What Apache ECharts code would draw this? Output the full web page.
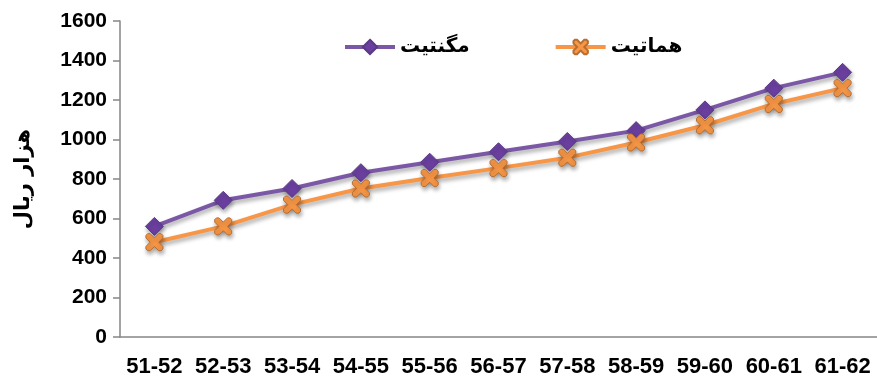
<!DOCTYPE html>
<html><head><meta charset="utf-8">
<script src="https://cdn.jsdelivr.net/npm/echarts@6/dist/echarts.min.js"></script>
<style>html,body{margin:0;padding:0;background:#fff}#c{width:877px;height:382px}</style>
</head><body><div id="c"></div>
<script>
const categories = ['51-52','52-53','53-54','54-55','55-56','56-57','57-58','58-59','59-60','60-61','61-62'];
const magnetite = [560, 692, 752, 832, 885, 938, 990, 1045, 1150, 1260, 1340];
const hematite = [480, 560, 670, 752, 805, 855, 908, 985, 1072, 1180, 1260];
const seriesNames = ['مگنتیت', 'هماتیت'];
const yTicks = {min: 0, max: 1600, interval: 200};
const yTitle = 'هزار ریال';

const xPath = 'path://M2,0 L5,0 L10,5 L15,0 L18,0 L20,2 L20,5 L15,10 L20,15 L20,18 L18,20 L15,20 L10,15 L5,20 L2,20 L0,18 L0,15 L5,10 L0,5 L0,2 Z';
const shadow = {shadowColor: 'rgba(0,0,0,0.35)', shadowBlur: 4, shadowOffsetX: 1, shadowOffsetY: 3};
const chart = echarts.init(document.getElementById('c'));
chart.setOption({
  animation: false,
  textStyle: {fontFamily: 'Liberation Sans, Arial, sans-serif'},
  grid: {left: 120, top: 21, width: 759, height: 316},
  legend: {
    top: 32, left: 338, itemGap: 84, itemWidth: 50, itemHeight: 18,
    lineStyle: {width: 4},
    textStyle: {fontFamily: 'DejaVu Sans', fontWeight: 'bold', fontSize: 20, color: '#000'},
    data: seriesNames
  },
  xAxis: {
    type: 'category', data: categories, boundaryGap: true,
    axisLine: {lineStyle: {color: '#868686', width: 1.5}},
    axisTick: {length: 7, lineStyle: {color: '#868686', width: 1.5}},
    axisLabel: {color: '#000', fontWeight: 'bold', fontSize: 22, margin: 19, interval: 0}
  },
  yAxis: {
    type: 'value', min: yTicks.min, max: yTicks.max, interval: yTicks.interval,
    name: yTitle, nameLocation: 'middle', nameRotate: 90, nameGap: 86,
    nameTextStyle: {fontFamily: 'DejaVu Sans', fontWeight: 'bold', fontSize: 21, color: '#000'},
    splitLine: {show: false},
    axisLine: {show: true, lineStyle: {color: '#868686', width: 1.5}},
    axisTick: {show: true, length: 7, lineStyle: {color: '#868686', width: 1.5}},
    axisLabel: {color: '#000', fontWeight: 'bold', fontSize: 21, margin: 13, formatter: v => String(v)}
  },
  series: [
    {
      name: seriesNames[0], type: 'line', data: magnetite,
      symbol: 'diamond', symbolSize: 18,
      lineStyle: {color: '#7B58A6', width: 4, ...shadow},
      itemStyle: {color: '#6B3FA0', borderColor: '#5A3A85', borderWidth: 1, ...shadow}
    },
    {
      name: seriesNames[1], type: 'line', data: hematite,
      symbol: xPath, symbolSize: 17,
      lineStyle: {color: '#F79646', width: 4, ...shadow},
      itemStyle: {color: '#F79646', borderColor: '#B86E30', borderWidth: 1, ...shadow}
    }
  ]
});
</script></body></html>
